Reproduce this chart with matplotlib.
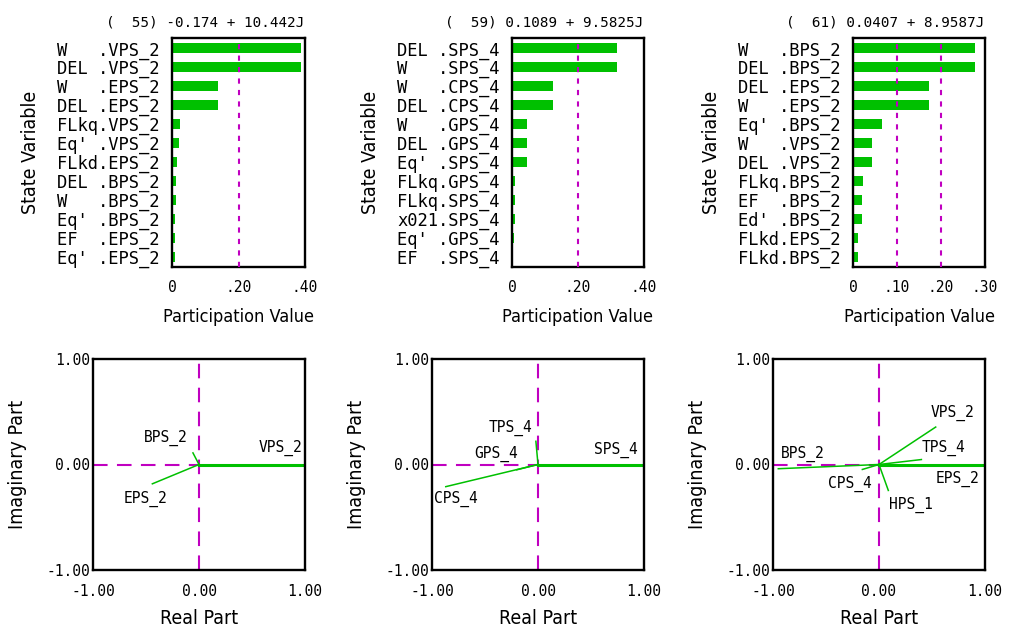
import numpy as np
import matplotlib.pyplot as plt

# participation factors (top row)
titles = ["(  55) -0.174 + 10.442J", "(  59) 0.1089 + 9.5825J", "(  61) 0.0407 + 8.9587J"]

vars_55 = ["W", "DEL", "W", "DEL", "FLkq", "Eq'", "FLkd", "DEL", "W", "Eq'", "EF", "Eq'"]
devs_55 = ["VPS_2", "VPS_2", "EPS_2", "EPS_2", "VPS_2", "VPS_2", "EPS_2", "BPS_2", "BPS_2", "BPS_2", "EPS_2", "EPS_2"]
part_55 = [0.388, 0.388, 0.138, 0.138, 0.025, 0.022, 0.015, 0.012, 0.012, 0.009, 0.009, 0.009]

vars_59 = ["DEL", "W", "W", "DEL", "W", "DEL", "Eq'", "FLkq", "FLkq", "x021", "Eq'", "EF"]
devs_59 = ["SPS_4", "SPS_4", "CPS_4", "CPS_4", "GPS_4", "GPS_4", "SPS_4", "GPS_4", "SPS_4", "SPS_4", "GPS_4", "SPS_4"]
part_59 = [0.317, 0.317, 0.124, 0.124, 0.045, 0.045, 0.045, 0.009, 0.009, 0.009, 0.006, 0.001]

vars_61 = ["W", "DEL", "DEL", "W", "Eq'", "W", "DEL", "FLkq", "EF", "Ed'", "FLkd", "FLkd"]
devs_61 = ["BPS_2", "BPS_2", "EPS_2", "EPS_2", "BPS_2", "VPS_2", "VPS_2", "BPS_2", "BPS_2", "BPS_2", "EPS_2", "BPS_2"]
part_61 = [0.277, 0.277, 0.173, 0.173, 0.0665, 0.044, 0.044, 0.0234, 0.021, 0.021, 0.011, 0.011]

xticks_55 = [0, 0.2, 0.4]
xticks_59 = [0, 0.2, 0.4]
xticks_61 = [0, 0.1, 0.2, 0.3]
xlabels_55 = ["0", ".20", ".40"]
xlabels_59 = ["0", ".20", ".40"]
xlabels_61 = ["0", ".10", ".20", ".30"]

# mode shapes (bottom row)
names_55 = ["VPS_2", "BPS_2", "EPS_2"]
re_55 = [1.0, -0.057, -0.44]
im_55 = [0.0, 0.11, -0.183]

names_59 = ["SPS_4", "TPS_4", "GPS_4", "CPS_4"]
re_59 = [1.0, -0.02, -0.2, -0.87]
im_59 = [0.0, 0.22, -0.05, -0.21]

names_61 = ["EPS_2", "VPS_2", "TPS_4", "BPS_2", "CPS_4", "HPS_1"]
re_61 = [1.0, 0.535, 0.40, -0.95, -0.157, 0.088]
im_61 = [0.0, 0.355, 0.047, -0.04, -0.047, -0.246]

# label placement: (dx px, dy px, ha, va)
place_55 = [(-3, 8, "right", "bottom"), (-5, 7, "right", "bottom"), (-7, -7, "center", "top")]
place_59 = [(-6, 6, "right", "bottom"), (-4, 5, "right", "bottom"), (1, 8, "right", "bottom"), (10, -4, "center", "top")]
place_61 = [(-6, -6, "right", "top"), (-5, 6, "left", "bottom"), (0, 4, "left", "bottom"),
            (3, 7, "left", "bottom"), (9, -6, "right", "top"), (1, -6, "left", "top")]

GREEN = "#00c000"
MAGENTA = "#c000c0"
MONO = "DejaVu Sans Mono"
W, H = 1013, 632

fig = plt.figure(figsize=(W / 100, H / 100), dpi=100)


def px_axes(x0, y0, x1, y1):
    return fig.add_axes([x0 / W, 1 - y1 / H, (x1 - x0) / W, (y1 - y0) / H])


def bar_panel(ax, title, var, dev, vals, ticks, ticklabels):
    labels = [f"{v:<4}.{d}" for v, d in zip(var, dev)]
    pos = np.arange(len(vals))
    ax.barh(pos, vals, height=0.53, color=GREEN, zorder=2)
    for t in ticks[1:-1]:
        ax.axvline(t, color=MAGENTA, lw=1.5, ls=(0, (2.5, 3)), zorder=3)
    ax.set_ylim(len(vals) - 0.45, -0.55)
    ax.set_xlim(ticks[0], ticks[-1])
    ax.set_yticks(pos)
    ax.set_yticklabels(labels, family=MONO, fontsize=12.3)
    ax.set_xticks(ticks)
    ax.set_xticklabels(ticklabels, family=MONO, fontsize=10.5)
    ax.tick_params(axis="y", length=0, pad=9)
    ax.tick_params(axis="x", length=0, pad=9)
    ax.set_xlabel("Participation Value", fontsize=13, fontstretch="condensed", labelpad=10)
    ax.set_ylabel("State Variable", fontsize=14, fontstretch="condensed", labelpad=12)
    ax.annotate(title, xy=(1, 1), xycoords="axes fraction", xytext=(-1, 9),
                textcoords="offset pixels", ha="right", va="bottom", family=MONO, fontsize=10.3)
    for s in ax.spines.values():
        s.set_linewidth(1.7)


def compass_panel(ax, names, re, im, place):
    ax.plot([0, 0], [-1, 1], color=MAGENTA, lw=1.5, ls=(0, (7, 4.5)), zorder=1)
    ax.plot([-1, 0], [0, 0], color=MAGENTA, lw=1.5, ls=(0, (7, 4.5)), zorder=1)
    for i, (n, x, y) in enumerate(zip(names, re, im)):
        lw = 2.2 if i == 0 else 1.1
        ax.plot([0, x], [0, y], color=GREEN, lw=lw, zorder=2)
        dx, dy, ha, va = place[i]
        ax.annotate(n, xy=(x, y), xytext=(dx, dy), textcoords="offset pixels",
                    ha=ha, va=va, family=MONO, fontsize=10.5)
    ax.set_xlim(-1, 1)
    ax.set_ylim(-1, 1)
    ax.set_xticks([-1, 0, 1])
    ax.set_yticks([-1, 0, 1])
    ax.set_xticklabels(["-1.00", "0.00", "1.00"], family=MONO, fontsize=10.5)
    ax.set_yticklabels(["-1.00", "0.00", "1.00"], family=MONO, fontsize=10.5)
    ax.tick_params(axis="x", length=0, pad=10)
    ax.tick_params(axis="y", length=0, pad=2)
    ax.set_xlabel("Real Part", fontsize=14, fontstretch="condensed", labelpad=7)
    ax.set_ylabel("Imaginary Part", fontsize=14, fontstretch="condensed", labelpad=14)
    for s in ax.spines.values():
        s.set_linewidth(1.7)


top = [px_axes(172, 38, 305, 267), px_axes(512, 38, 644, 267), px_axes(853, 38, 985, 267)]
bottom = [px_axes(93, 359, 305, 570), px_axes(432, 359, 644, 570), px_axes(773, 359, 985, 570)]

bar_panel(top[0], titles[0], vars_55, devs_55, part_55, xticks_55, xlabels_55)
bar_panel(top[1], titles[1], vars_59, devs_59, part_59, xticks_59, xlabels_59)
bar_panel(top[2], titles[2], vars_61, devs_61, part_61, xticks_61, xlabels_61)

compass_panel(bottom[0], names_55, re_55, im_55, place_55)
compass_panel(bottom[1], names_59, re_59, im_59, place_59)
compass_panel(bottom[2], names_61, re_61, im_61, place_61)

fig.savefig("out.png", dpi=100)
